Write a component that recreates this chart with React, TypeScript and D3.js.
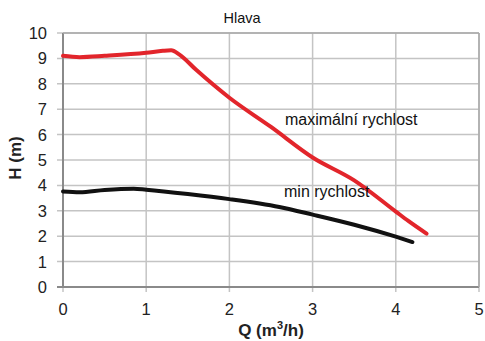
import React from "react";
import * as d3 from "d3";

const xTicks = [0, 1, 2, 3, 4, 5];
const yTicks = [0, 1, 2, 3, 4, 5, 6, 7, 8, 9, 10];

const maxQ = [0, 0.2, 0.5, 1.0, 1.2, 1.3, 1.4, 1.6, 2.0, 2.5, 3.0, 3.5, 4.0, 4.15, 4.37];
const maxH = [9.1, 9.05, 9.1, 9.22, 9.3, 9.32, 9.15, 8.55, 7.45, 6.3, 5.1, 4.2, 2.97, 2.6, 2.1];

const minQ = [0, 0.2, 0.5, 0.85, 1.0, 1.5, 2.0, 2.6, 3.0, 3.5, 4.0, 4.2];
const minH = [3.76, 3.73, 3.82, 3.87, 3.83, 3.66, 3.46, 3.15, 2.85, 2.45, 1.98, 1.77];

export default function App() {
  const W = 485, H = 341;
  const x = d3.scaleLinear().domain([0, 5]).range([63, 479]);
  const y = d3.scaleLinear().domain([0, 10]).range([287, 33]);
  const line = d3
    .line<[number, number]>()
    .x((d) => x(d[0]))
    .y((d) => y(d[1]))
    .curve(d3.curveMonotoneX);
  const maxPts = maxQ.map((q, i) => [q, maxH[i]] as [number, number]);
  const minPts = minQ.map((q, i) => [q, minH[i]] as [number, number]);
  const font = "Arial, 'Liberation Sans', sans-serif";
  return (
    <svg width={W} height={H} style={{ position: "absolute", left: 0, top: 0, background: "#fff" }} fontFamily={font}>
      <rect x={0} y={0} width={W} height={H} fill="#fff" />
      {yTicks.map((t) => (
        <line key={"gy" + t} x1={57} x2={x(5)} y1={y(t)} y2={y(t)} stroke="#c4c4c4" strokeWidth={1.5} />
      ))}
      {xTicks.map((t) => (
        <line key={"gx" + t} x1={x(t)} x2={x(t)} y1={y(10)} y2={y(0) + 5} stroke="#c4c4c4" strokeWidth={1.5} />
      ))}
      <line x1={x(0)} x2={x(0)} y1={y(10)} y2={y(0)} stroke="#8a8a8a" strokeWidth={2} />
      <line x1={57} x2={x(5)} y1={y(0)} y2={y(0)} stroke="#8a8a8a" strokeWidth={2} />
      <line x1={x(0)} x2={x(5)} y1={y(10)} y2={y(10)} stroke="#a8a8a8" strokeWidth={1.5} />
      <line x1={x(5)} x2={x(5)} y1={y(10)} y2={y(0)} stroke="#a8a8a8" strokeWidth={1.5} />
      {yTicks.map((t) => (
        <text key={"ty" + t} x={47} y={y(t) + 6} textAnchor="end" fontSize={16.5} fill="#222">
          {t}
        </text>
      ))}
      {xTicks.map((t) => (
        <text key={"tx" + t} x={x(t)} y={315} textAnchor="middle" fontSize={16.5} fill="#222">
          {t}
        </text>
      ))}
      <path d={line(maxPts) || ""} fill="none" stroke="#e2252b" strokeWidth={4} strokeLinecap="round" strokeLinejoin="round" />
      <path d={line(minPts) || ""} fill="none" stroke="#111" strokeWidth={4} strokeLinecap="round" strokeLinejoin="round" />
      <text x={242} y={23} textAnchor="middle" fontSize={14.5} fill="#111">Hlava</text>
      <text x={285} y={125} fontSize={16} fill="#111">maximální rychlost</text>
      <text x={284} y={197} fontSize={16} fill="#111">min rychlost</text>
      <text x={271} y={336} textAnchor="middle" fontSize={17} fontWeight="bold" fill="#222">
        Q (m<tspan fontSize={11} dy={-7}>3</tspan><tspan dy={7}>/h)</tspan>
      </text>
      <text transform={`translate(21,${158}) rotate(-90)`} textAnchor="middle" fontSize={17} fontWeight="bold" fill="#222">
        H (m)
      </text>
    </svg>
  );
}
